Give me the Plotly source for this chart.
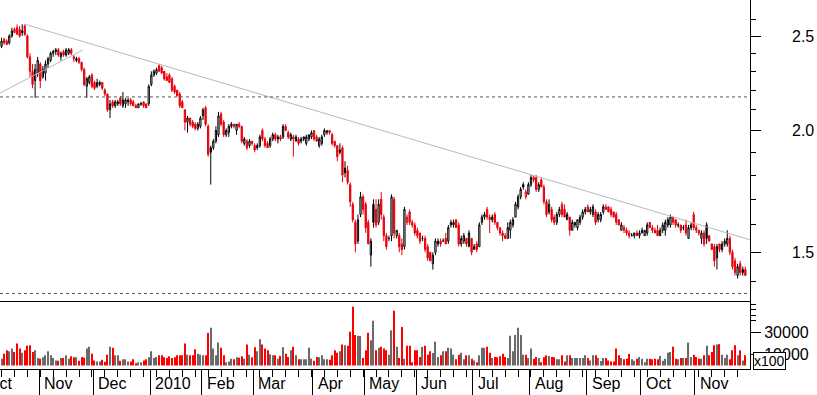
import math
import plotly.graph_objects as go

# ---------------- data (trading-day index 0..288, Oct-2009 .. Nov-2010) ----------------
open_ = [
    2.44, 2.48, 2.47, 2.46, 2.50, 2.54, 2.55, 2.54, 2.53, 2.56,
    2.50, 2.38, 2.30, 2.25, 2.29, 2.34, 2.27, 2.29, 2.34, 2.36,
    2.40, 2.41, 2.42, 2.38, 2.41, 2.39, 2.40, 2.42, 2.38, 2.36,
    2.37, 2.35, 2.31, 2.22, 2.24, 2.28, 2.24, 2.22, 2.23, 2.24,
    2.20, 2.18, 2.10, 2.14, 2.12, 2.13, 2.16, 2.12, 2.13, 2.14,
    2.15, 2.14, 2.12, 2.11, 2.13, 2.14, 2.13, 2.13, 2.23, 2.28,
    2.29, 2.33, 2.32, 2.30, 2.27, 2.28, 2.26, 2.22, 2.20, 2.18,
    2.14, 2.10, 2.04, 2.06, 2.04, 2.03, 2.01, 2.02, 2.07, 2.11,
    2.02, 1.92, 1.92, 1.95, 1.98, 2.08, 2.04, 1.98, 1.99, 2.02,
    2.03, 2.00, 2.03, 2.02, 1.94, 1.95, 1.93, 1.95, 1.93, 1.92,
    1.93, 2.00, 1.96, 1.94, 1.93, 1.96, 1.98, 1.96, 1.97, 1.97,
    2.02, 1.99, 1.96, 1.97, 1.95, 1.96, 1.95, 1.96, 1.94, 1.96,
    1.97, 2.00, 1.97, 1.93, 1.94, 1.98, 1.99, 2.00, 1.98, 1.95,
    1.93, 1.91, 1.92, 1.83, 1.82, 1.76, 1.68, 1.61, 1.54, 1.64,
    1.71, 1.68, 1.61, 1.49, 1.68, 1.66, 1.61, 1.70, 1.63, 1.56,
    1.55, 1.56, 1.70, 1.56, 1.56, 1.53, 1.52, 1.61, 1.65, 1.61,
    1.60, 1.58, 1.57, 1.55, 1.55, 1.52, 1.50, 1.46, 1.50, 1.53,
    1.54, 1.54, 1.55, 1.54, 1.60, 1.60, 1.62, 1.60, 1.53, 1.54,
    1.55, 1.52, 1.55, 1.51, 1.53, 1.52, 1.61, 1.63, 1.66, 1.63,
    1.62, 1.64, 1.61, 1.59, 1.57, 1.56, 1.55, 1.58, 1.60, 1.63,
    1.67, 1.71, 1.76, 1.71, 1.72, 1.76, 1.79, 1.79, 1.74, 1.78,
    1.75, 1.69, 1.65, 1.66, 1.63, 1.61, 1.64, 1.68, 1.66, 1.62,
    1.63, 1.58, 1.60, 1.59, 1.61, 1.63, 1.65, 1.67, 1.65, 1.64,
    1.65, 1.62, 1.62, 1.65, 1.67, 1.67, 1.66, 1.65, 1.64, 1.62,
    1.58, 1.59, 1.58, 1.57, 1.56, 1.56, 1.57, 1.56, 1.57, 1.56,
    1.57, 1.61, 1.59, 1.58, 1.58, 1.56, 1.58, 1.58, 1.60, 1.60,
    1.63, 1.62, 1.60, 1.60, 1.59, 1.60, 1.55, 1.59, 1.64, 1.59,
    1.58, 1.55, 1.57, 1.60, 1.56, 1.53, 1.52, 1.48, 1.53, 1.51,
    1.53, 1.53, 1.55, 1.50, 1.47, 1.42, 1.46, 1.44, 1.44,
]
high = [
    2.49, 2.49, 2.48, 2.51, 2.55, 2.55, 2.57, 2.56, 2.57, 2.57,
    2.51, 2.40, 2.34, 2.34, 2.38, 2.35, 2.33, 2.36, 2.38, 2.41,
    2.42, 2.43, 2.43, 2.41, 2.42, 2.43, 2.43, 2.43, 2.39, 2.38,
    2.38, 2.35, 2.32, 2.27, 2.28, 2.29, 2.25, 2.26, 2.25, 2.24,
    2.21, 2.18, 2.15, 2.15, 2.15, 2.15, 2.17, 2.19, 2.16, 2.16,
    2.16, 2.15, 2.13, 2.13, 2.14, 2.14, 2.13, 2.23, 2.30, 2.31,
    2.32, 2.34, 2.33, 2.30, 2.29, 2.29, 2.27, 2.23, 2.20, 2.19,
    2.15, 2.10, 2.07, 2.06, 2.05, 2.04, 2.04, 2.07, 2.11, 2.12,
    2.03, 1.93, 1.96, 2.02, 2.09, 2.09, 2.05, 2.01, 2.03, 2.04,
    2.03, 2.03, 2.04, 2.02, 1.97, 1.96, 1.96, 1.95, 1.94, 1.94,
    1.98, 2.01, 1.97, 1.95, 1.97, 1.99, 1.99, 1.98, 1.98, 2.03,
    2.03, 2.00, 1.99, 1.98, 1.98, 1.97, 1.97, 1.97, 1.98, 1.98,
    2.00, 2.00, 1.98, 1.97, 1.98, 2.01, 2.00, 2.00, 1.99, 1.95,
    1.93, 1.94, 1.93, 1.86, 1.84, 1.77, 1.69, 1.62, 1.64, 1.73,
    1.72, 1.69, 1.62, 1.55, 1.70, 1.70, 1.70, 1.73, 1.64, 1.57,
    1.56, 1.72, 1.71, 1.58, 1.57, 1.55, 1.67, 1.64, 1.66, 1.62,
    1.61, 1.59, 1.57, 1.56, 1.56, 1.53, 1.50, 1.50, 1.55, 1.55,
    1.55, 1.55, 1.57, 1.60, 1.62, 1.62, 1.62, 1.61, 1.56, 1.57,
    1.55, 1.58, 1.55, 1.53, 1.54, 1.61, 1.64, 1.65, 1.67, 1.64,
    1.64, 1.65, 1.61, 1.59, 1.58, 1.57, 1.61, 1.62, 1.63, 1.69,
    1.72, 1.75, 1.77, 1.74, 1.77, 1.80, 1.80, 1.80, 1.77, 1.79,
    1.76, 1.70, 1.70, 1.67, 1.64, 1.65, 1.67, 1.69, 1.68, 1.65,
    1.63, 1.62, 1.61, 1.62, 1.64, 1.66, 1.67, 1.68, 1.67, 1.68,
    1.66, 1.65, 1.65, 1.68, 1.68, 1.67, 1.67, 1.65, 1.65, 1.62,
    1.61, 1.60, 1.59, 1.58, 1.57, 1.57, 1.58, 1.58, 1.59, 1.58,
    1.61, 1.61, 1.60, 1.59, 1.60, 1.59, 1.61, 1.62, 1.63, 1.64,
    1.63, 1.62, 1.61, 1.60, 1.60, 1.62, 1.60, 1.61, 1.65, 1.60,
    1.58, 1.58, 1.58, 1.61, 1.56, 1.53, 1.53, 1.53, 1.53, 1.54,
    1.55, 1.58, 1.56, 1.51, 1.48, 1.46, 1.47, 1.45, 1.45,
]
low = [
    2.43, 2.45, 2.45, 2.45, 2.49, 2.52, 2.51, 2.49, 2.50, 2.50,
    2.37, 2.27, 2.21, 2.16, 2.27, 2.21, 2.26, 2.25, 2.32, 2.35,
    2.38, 2.39, 2.38, 2.36, 2.38, 2.38, 2.39, 2.39, 2.35, 2.35,
    2.34, 2.30, 2.22, 2.16, 2.23, 2.21, 2.20, 2.21, 2.22, 2.20,
    2.17, 2.09, 2.06, 2.11, 2.11, 2.12, 2.12, 2.11, 2.11, 2.12,
    2.12, 2.12, 2.11, 2.11, 2.12, 2.11, 2.11, 2.12, 2.22, 2.27,
    2.28, 2.30, 2.29, 2.25, 2.25, 2.24, 2.19, 2.18, 2.17, 2.11,
    2.11, 2.00, 1.99, 2.02, 2.01, 2.00, 2.00, 2.01, 2.05, 2.02,
    1.88, 1.76, 1.91, 1.94, 1.97, 2.02, 1.97, 1.97, 1.97, 2.01,
    2.01, 1.98, 2.01, 1.94, 1.93, 1.91, 1.92, 1.93, 1.90, 1.91,
    1.92, 1.95, 1.92, 1.92, 1.92, 1.95, 1.95, 1.94, 1.95, 1.96,
    2.00, 1.96, 1.95, 1.88, 1.95, 1.93, 1.94, 1.95, 1.93, 1.95,
    1.96, 1.95, 1.95, 1.92, 1.93, 1.97, 1.98, 1.98, 1.93, 1.92,
    1.86, 1.89, 1.77, 1.79, 1.76, 1.67, 1.61, 1.50, 1.53, 1.63,
    1.64, 1.57, 1.53, 1.45, 1.59, 1.59, 1.60, 1.62, 1.54, 1.51,
    1.54, 1.54, 1.55, 1.55, 1.50, 1.49, 1.51, 1.60, 1.60, 1.59,
    1.56, 1.55, 1.53, 1.54, 1.50, 1.47, 1.47, 1.44, 1.49, 1.52,
    1.52, 1.54, 1.53, 1.53, 1.59, 1.59, 1.59, 1.52, 1.52, 1.53,
    1.52, 1.52, 1.49, 1.51, 1.50, 1.52, 1.60, 1.62, 1.62, 1.57,
    1.61, 1.60, 1.58, 1.56, 1.54, 1.55, 1.55, 1.55, 1.59, 1.63,
    1.66, 1.70, 1.74, 1.70, 1.72, 1.75, 1.77, 1.73, 1.73, 1.75,
    1.68, 1.63, 1.64, 1.61, 1.60, 1.60, 1.63, 1.63, 1.63, 1.62,
    1.56, 1.58, 1.59, 1.58, 1.60, 1.62, 1.64, 1.65, 1.64, 1.63,
    1.60, 1.61, 1.61, 1.64, 1.66, 1.65, 1.63, 1.63, 1.60, 1.60,
    1.58, 1.57, 1.56, 1.55, 1.56, 1.55, 1.56, 1.55, 1.57, 1.56,
    1.56, 1.59, 1.57, 1.57, 1.56, 1.56, 1.57, 1.56, 1.59, 1.59,
    1.60, 1.59, 1.59, 1.57, 1.58, 1.56, 1.55, 1.58, 1.58, 1.57,
    1.56, 1.53, 1.52, 1.53, 1.54, 1.51, 1.45, 1.44, 1.50, 1.50,
    1.52, 1.52, 1.49, 1.44, 1.42, 1.41, 1.42, 1.42, 1.42,
]
close = [
    2.47, 2.46, 2.45, 2.50, 2.53, 2.52, 2.51, 2.50, 2.52, 2.51,
    2.38, 2.30, 2.23, 2.31, 2.36, 2.25, 2.31, 2.34, 2.37, 2.40,
    2.41, 2.42, 2.39, 2.40, 2.39, 2.42, 2.42, 2.40, 2.37, 2.37,
    2.35, 2.31, 2.23, 2.26, 2.27, 2.22, 2.21, 2.24, 2.24, 2.21,
    2.18, 2.10, 2.13, 2.12, 2.14, 2.14, 2.13, 2.15, 2.15, 2.15,
    2.13, 2.12, 2.11, 2.13, 2.13, 2.12, 2.11, 2.22, 2.28, 2.30,
    2.31, 2.30, 2.29, 2.26, 2.25, 2.24, 2.20, 2.19, 2.17, 2.12,
    2.11, 2.04, 2.06, 2.03, 2.02, 2.01, 2.03, 2.06, 2.10, 2.03,
    1.89, 1.90, 1.95, 2.00, 2.07, 2.03, 1.98, 2.00, 2.02, 2.03,
    2.02, 2.03, 2.02, 1.95, 1.96, 1.92, 1.95, 1.94, 1.91, 1.93,
    1.97, 1.96, 1.93, 1.92, 1.96, 1.98, 1.96, 1.97, 1.96, 2.02,
    2.00, 1.97, 1.98, 1.96, 1.97, 1.94, 1.96, 1.97, 1.97, 1.98,
    1.99, 1.96, 1.95, 1.96, 1.97, 2.00, 2.00, 1.99, 1.94, 1.93,
    1.88, 1.90, 1.80, 1.81, 1.77, 1.69, 1.62, 1.53, 1.62, 1.71,
    1.66, 1.59, 1.53, 1.54, 1.61, 1.60, 1.68, 1.64, 1.56, 1.52,
    1.55, 1.71, 1.57, 1.58, 1.52, 1.51, 1.66, 1.63, 1.61, 1.60,
    1.57, 1.56, 1.54, 1.55, 1.51, 1.48, 1.47, 1.49, 1.54, 1.54,
    1.53, 1.54, 1.53, 1.59, 1.61, 1.61, 1.59, 1.53, 1.55, 1.56,
    1.53, 1.57, 1.50, 1.52, 1.51, 1.60, 1.63, 1.64, 1.63, 1.62,
    1.63, 1.61, 1.59, 1.57, 1.56, 1.55, 1.59, 1.61, 1.62, 1.68,
    1.71, 1.74, 1.75, 1.73, 1.76, 1.79, 1.78, 1.74, 1.76, 1.75,
    1.69, 1.64, 1.68, 1.62, 1.61, 1.64, 1.66, 1.64, 1.63, 1.64,
    1.58, 1.61, 1.61, 1.62, 1.63, 1.65, 1.66, 1.65, 1.66, 1.67,
    1.61, 1.64, 1.64, 1.67, 1.66, 1.65, 1.64, 1.63, 1.61, 1.60,
    1.60, 1.58, 1.57, 1.56, 1.56, 1.57, 1.56, 1.57, 1.58, 1.58,
    1.60, 1.59, 1.58, 1.57, 1.56, 1.58, 1.60, 1.61, 1.62, 1.63,
    1.61, 1.60, 1.60, 1.58, 1.59, 1.57, 1.59, 1.60, 1.59, 1.58,
    1.57, 1.57, 1.53, 1.55, 1.54, 1.51, 1.47, 1.52, 1.51, 1.53,
    1.54, 1.55, 1.50, 1.45, 1.43, 1.45, 1.43, 1.43, 1.42,
]
volume = [  # x100
    6100, 10600, 13600, 12700, 15200, 12100, 19700, 15200, 11500, 13600,
    17600, 18200, 12100, 13600, 6700, 6100, 7300, 9100, 12700, 9100,
    6700, 4500, 4200, 6700, 6700, 9100, 6100, 8200, 7300, 7300,
    4200, 7600, 7000, 15200, 16700, 10600, 4500, 3600, 3600, 5200,
    3300, 9700, 16700, 15800, 9100, 9100, 4200, 5500, 5500, 3600,
    3600, 5500, 2100, 3000, 3000, 4500, 5500, 7300, 12700, 6700,
    7600, 9100, 9100, 7300, 6700, 8200, 6700, 7300, 9100, 9100,
    9100, 19700, 9700, 9100, 9100, 14500, 10600, 9700, 9100, 9100,
    29100, 33900, 15200, 9100, 20600, 15800, 9100, 3000, 3600, 6100,
    5500, 7300, 7000, 8200, 6100, 18800, 9700, 7300, 16400, 12700,
    23600, 18800, 15200, 13600, 10000, 9100, 9100, 6100, 8500, 16400,
    10600, 7600, 13600, 16700, 9100, 5500, 5500, 5500, 5500, 15800,
    6100, 4200, 7600, 7300, 9100, 5500, 5500, 5200, 9100, 13600,
    11500, 12700, 18800, 18200, 17600, 30300, 52700, 27300, 26700, 26400,
    6700, 13600, 29400, 22700, 40000, 13600, 15800, 16700, 15200, 13600,
    9700, 31500, 49100, 16700, 6700, 34500, 6100, 17600, 17600, 3000,
    13600, 13600, 7600, 16700, 17600, 9700, 12700, 11200, 21200, 7600,
    9100, 12700, 12700, 15800, 15200, 9700, 5500, 9700, 11500, 5500,
    9100, 9100, 6100, 4500, 3000, 9100, 15800, 15800, 16700, 11500,
    6700, 7600, 7300, 8200, 10600, 7600, 6700, 26700, 12700, 27300,
    33900, 27300, 9700, 9700, 6700, 15200, 6100, 7600, 6700, 3000,
    7300, 9100, 8500, 7600, 7300, 5500, 5500, 9100, 3600, 9100,
    9100, 6700, 6700, 6700, 6700, 6700, 9100, 6700, 4500, 9100,
    9100, 6700, 4000, 6700, 6700, 4500, 3600, 3600, 15200, 9100,
    6700, 5500, 6100, 10300, 5500, 4200, 6100, 7600, 6100, 3000,
    6100, 6100, 5500, 6100, 5500, 8500, 4200, 6100, 11500, 12100,
    16700, 6100, 5500, 6700, 6700, 6700, 20600, 7600, 9700, 7600,
    6100, 6100, 9100, 17600, 9100, 12100, 18200, 18800, 19100, 9700,
    6700, 9700, 5500, 13600, 18200, 9100, 13600, 4500, 9100,
]

month_labels = ["Oct", "Nov", "Dec", "2010", "Feb", "Mar", "Apr", "May",
                "Jun", "Jul", "Aug", "Sep", "Oct", "Nov"]
month_tick_idx = [-7.5, 14.5, 35.5, 57.5, 77.5, 97.5, 120.5, 140.5,
                  160.5, 182.5, 204.5, 226.5, 247.5, 268.5]

price_ticks = [1.5, 2.0, 2.5]
price_tick_text = ["1.5", "2.0", "2.5"]
price_minor = [1.4, 1.6, 1.7, 1.8, 1.9, 2.1, 2.2, 2.3, 2.4, 2.6]
vol_ticks = [10000, 30000]
vol_tick_text = ["10000", "30000"]
vol_minor = [40000, 45000, 50000, 55000]

# drawn studies: trend lines and horizontal levels (index, price)
trend_down_x = [8.7, 289.8]
trend_down_y = [2.572, 1.545]
trend_up_x = [-0.6, 31.5]
trend_up_y = [2.185, 2.419]
level_hi = 2.165
level_lo = 1.361

X_MIN, X_MAX = -0.6, 289.8

# ---------------- build figure ----------------
n = len(close)
xs = list(range(n))
prev = [open_[0]] + close[:-1]
is_up = [c >= p for c, p in zip(close, prev)]


def subset(lst, flag):
    return [v for v, u in zip(lst, is_up) if u == flag]


fig = go.Figure()

# studies (behind candles)
fig.add_trace(go.Scatter(x=trend_down_x, y=trend_down_y, mode="lines",
                         line=dict(color="#b9b9b9", width=1), hoverinfo="skip"))
fig.add_trace(go.Scatter(x=trend_up_x, y=trend_up_y, mode="lines",
                         line=dict(color="#b9b9b9", width=1), hoverinfo="skip"))
for lv in (level_hi, level_lo):
    fig.add_trace(go.Scatter(x=[X_MIN, X_MAX], y=[lv, lv], mode="lines",
                             line=dict(color="#555555", width=1, dash="3px,3px"),
                             hoverinfo="skip"))

for flag, col in ((True, "#000000"), (False, "#e8000b")):
    fig.add_trace(go.Candlestick(
        x=subset(xs, flag), open=subset(open_, flag), high=subset(high, flag),
        low=subset(low, flag), close=subset(close, flag),
        increasing=dict(line=dict(color=col, width=1), fillcolor="#ffffff"),
        decreasing=dict(line=dict(color=col, width=1), fillcolor=col),
        xaxis="x", yaxis="y", showlegend=False))

fig.add_trace(go.Bar(x=xs, y=volume, width=0.42,
                     marker=dict(color=["#6a6a6a" if u else "#ff0000" for u in is_up],
                                 line=dict(width=0)),
                     xaxis="x", yaxis="y2", showlegend=False))

PLOT_H = 369.0
PLOT_W = 750.0
price_dom = [(PLOT_H - 301) / PLOT_H, 1.0]
vol_dom = [0.0, (PLOT_H - 302) / PLOT_H]

fig.update_layout(
    width=817, height=395, autosize=False,
    margin=dict(l=0, r=67, t=0, b=26, pad=0),
    paper_bgcolor="white", plot_bgcolor="white", showlegend=False,
    font=dict(family="Liberation Sans, Arial, sans-serif", size=16, color="black"),
    xaxis=dict(type="linear", range=[X_MIN, X_MAX], anchor="y2",
               showline=True, linecolor="black", linewidth=1, mirror=True,
               showgrid=False, zeroline=False,
               ticks="outside", ticklen=26, tickwidth=1, tickcolor="black",
               tickmode="array", tickvals=month_tick_idx[1:], showticklabels=False,
               minor=dict(ticks="outside", ticklen=7, tickwidth=1, tickcolor="black",
                          tickmode="array",
                          tickvals=[v + 0.0 for v in range(0, 290, 5)]),
               rangeslider=dict(visible=False)),
    yaxis=dict(domain=price_dom, type="log",
               range=[math.log10(1.337), math.log10(2.722)],
               side="right", anchor="x", showline=True, linecolor="black",
               linewidth=1, showgrid=False, zeroline=False,
               ticks="outside", ticklen=10, tickwidth=1, tickcolor="black",
               tickmode="array", tickvals=price_ticks, showticklabels=False,
               minor=dict(ticks="outside", ticklen=5, tickwidth=1, tickcolor="black",
                          tickmode="array", tickvals=price_minor)),
    yaxis2=dict(domain=vol_dom, range=[-3130, 56860],
                side="right", anchor="x", showline=True, linecolor="black",
                linewidth=1, showgrid=False, zeroline=False,
                ticks="outside", ticklen=10, tickwidth=1, tickcolor="black",
                tickmode="array", tickvals=vol_ticks, ticktext=vol_tick_text,
                minor=dict(ticks="outside", ticklen=5, tickwidth=1, tickcolor="black",
                           tickmode="array", tickvals=vol_minor)),
)

# price axis labels, set further out from the axis as in the original
for val, txt in zip(price_ticks, price_tick_text):
    fig.add_annotation(text=txt, xref="paper", yref="y", x=1.0, y=math.log10(val),
                       xanchor="left", yanchor="middle", xshift=40,
                       showarrow=False, font=dict(size=16))

# month labels to the right of each month separator
span = X_MAX - X_MIN
for lab, idx in zip(month_labels, month_tick_idx):
    fig.add_annotation(text=lab, xref="paper", yref="paper",
                       x=(idx - X_MIN) / span, y=-15.0 / PLOT_H,
                       xanchor="left", yanchor="middle", xshift=3,
                       showarrow=False, font=dict(size=16))

# volume multiplier box
fig.add_annotation(text="x100", xref="paper", yref="paper", x=1.0, y=8.5 / PLOT_H,
                   xanchor="left", yanchor="middle", xshift=3, showarrow=False,
                   font=dict(size=14), bgcolor="white", bordercolor="black",
                   borderwidth=1, borderpad=0)

fig.write_html(
    "out.html",
    config={"displayModeBar": False},
    post_script="document.body.style.margin='0';document.body.style.overflow='hidden';",
)
